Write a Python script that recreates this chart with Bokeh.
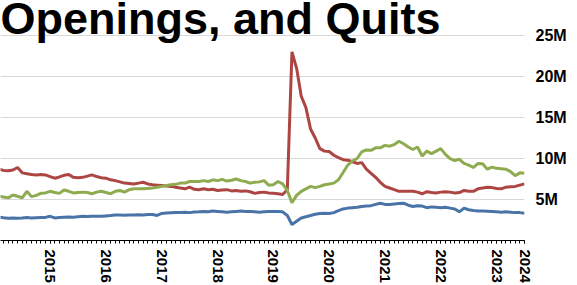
import pandas as pd
from bokeh.plotting import figure
from bokeh.models import Range1d, FixedTicker, CustomJSTickFormatter, Label
from bokeh.embed import file_html
from bokeh.resources import INLINE

# monthly observations (axis-label time base), values in millions
start_month = "2014-02"
n_months = 114

red_series = [
    8.7, 8.55, 8.5, 8.6, 8.9, 8.25, 8.15, 8.05, 8.0, 8.05, 8.0, 7.8,
    7.6, 7.75, 7.95, 8.05, 7.7, 7.65, 7.7, 7.85, 8.0, 7.8, 7.65, 7.6,
    7.4, 7.3, 7.15, 7.0, 6.95, 6.9, 7.0, 7.1, 6.9, 6.8, 6.75, 6.7,
    6.65, 6.6, 6.5, 6.4, 6.3, 6.5, 6.25, 6.2, 6.3, 6.2, 6.25, 6.1,
    6.15, 6.2, 6.05, 6.1, 6.0, 6.05, 5.95, 5.75, 5.85, 5.9, 5.8, 5.75,
    5.7, 5.6, 6.2, 23.0, 21.0, 17.6, 16.2, 13.6, 12.5, 11.2, 10.9, 10.85,
    10.4, 10.1, 9.85, 9.8, 9.6, 9.4, 9.5, 8.7, 8.2, 7.7, 7.1, 6.6,
    6.4, 6.2, 6.0, 6.0, 6.0, 6.0, 5.9, 5.7, 5.95, 5.85, 5.8, 5.9,
    5.95, 5.9, 5.8, 5.85, 6.1, 6.0, 6.0, 6.3, 6.4, 6.5, 6.45, 6.35,
    6.3, 6.5, 6.55, 6.6, 6.75, 6.9,
]

green_series = [
    5.4, 5.3, 5.2, 5.55, 5.4, 5.2, 6.0, 5.35, 5.5, 5.75, 5.8, 6.0,
    5.85, 5.75, 6.15, 6.0, 5.8, 5.85, 5.9, 5.85, 5.7, 5.9, 6.0, 5.85,
    5.7, 6.0, 6.1, 5.9, 6.2, 6.3, 6.3, 6.3, 6.35, 6.4, 6.5, 6.6,
    6.7, 6.8, 6.85, 7.0, 7.0, 7.2, 7.2, 7.2, 7.3, 7.2, 7.4, 7.3,
    7.45, 7.25, 7.35, 7.5, 7.3, 7.2, 7.0, 7.1, 7.15, 7.3, 6.75, 6.8,
    7.2, 6.9, 6.1, 4.6, 5.5, 6.0, 6.3, 6.6, 6.45, 6.6, 6.8, 6.9,
    7.0, 7.4, 8.3, 9.2, 9.7, 10.0, 10.8, 11.05, 11.0, 11.3, 11.3, 11.6,
    11.5, 11.7, 12.1, 11.8, 11.4, 11.1, 11.4, 10.3, 10.9, 10.6, 10.9, 11.2,
    10.5, 10.0, 9.75, 9.9, 9.4, 9.2, 8.9, 9.4, 9.35, 8.7, 8.95, 8.8,
    8.75, 8.7, 8.4, 7.9, 8.25, 8.2,
]

blue_series = [
    2.85, 2.78, 2.72, 2.75, 2.72, 2.75, 2.8, 2.75, 2.78, 2.8, 2.82, 2.95,
    2.75, 2.8, 2.85, 2.88, 2.85, 2.9, 2.95, 2.92, 2.95, 2.97, 2.95, 3.0,
    3.05, 3.12, 3.1, 3.08, 3.12, 3.1, 3.15, 3.12, 3.18, 3.17, 3.05, 3.3,
    3.35, 3.38, 3.4, 3.42, 3.45, 3.4, 3.48, 3.5, 3.55, 3.5, 3.6, 3.55,
    3.5, 3.45, 3.5, 3.55, 3.6, 3.55, 3.55, 3.5, 3.45, 3.5, 3.55, 3.55,
    3.55, 3.5, 3.05, 1.95, 2.35, 2.75, 2.9, 3.05, 3.2, 3.3, 3.33, 3.3,
    3.4, 3.65, 3.85, 3.95, 4.0, 4.05, 4.15, 4.2, 4.25, 4.4, 4.55, 4.4,
    4.4, 4.45, 4.5, 4.55, 4.3, 4.15, 4.25, 4.2, 4.0, 4.1, 4.05, 4.0,
    4.05, 3.95, 3.85, 3.5, 3.95, 3.75, 3.65, 3.6, 3.6, 3.58, 3.55, 3.5,
    3.45, 3.5, 3.45, 3.4, 3.4, 3.33,
]

year_ticks = [2015, 2016, 2017, 2018, 2019, 2020, 2021, 2022, 2023]
last_tick_label = "2024"
y_ticks = [5, 10, 15, 20, 25]
title_text = "Openings, and Quits"

dates = pd.date_range(start_month, periods=n_months, freq="MS")
xs = [d.year + (d.month - 1) / 12 for d in dates]

p = figure(width=577, height=285, output_backend="svg", toolbar_location=None,
           x_range=Range1d(2014.111, xs[-1]), y_range=Range1d(0, 29.27),
           y_axis_location="right", min_border_left=0, min_border_top=0,
           min_border_right=53, min_border_bottom=45)
p.outline_line_color = None
p.background_fill_color = "white"
p.border_fill_color = "white"

p.line(xs, red_series, line_color="#ad4643", line_width=3)
p.line(xs, green_series, line_color="#8fab4f", line_width=3)
p.line(xs, blue_series, line_color="#4a74a8", line_width=3)

# x axis
xa = p.xaxis[0]
xa.ticker = FixedTicker(ticks=year_ticks + [xs[-1]], minor_ticks=xs)
xa.formatter = CustomJSTickFormatter(
    args=dict(last=xs[-1], lab=last_tick_label),
    code="return Math.abs(tick - last) < 1e-6 ? lab : Math.round(tick).toString();")
xa.major_label_orientation = "vertical"
xa.major_label_text_font = "Liberation Sans"
xa.major_label_text_font_style = "bold"
xa.major_label_text_font_size = "15px"
xa.major_label_text_color = "black"
xa.major_label_standoff = 6
xa.axis_line_color = "black"
xa.axis_line_width = 1
xa.major_tick_in = 0
xa.major_tick_out = 3
xa.minor_tick_in = 0
xa.minor_tick_out = 3
xa.major_tick_line_color = "black"
xa.minor_tick_line_color = "black"

# y axis (right)
ya = p.yaxis[0]
ya.ticker = FixedTicker(ticks=y_ticks, minor_ticks=[])
ya.formatter = CustomJSTickFormatter(code="return tick + 'M';")
ya.axis_line_color = None
ya.major_tick_line_color = None
ya.minor_tick_line_color = None
ya.major_label_standoff = 5
ya.major_label_text_font = "Liberation Sans"
ya.major_label_text_font_style = "bold"
ya.major_label_text_font_size = "16px"
ya.major_label_text_color = "black"

p.xgrid.grid_line_color = None
p.ygrid.grid_line_color = "#d8d8d8"
p.ygrid.grid_line_width = 1

p.add_layout(Label(x=2014.111, y=27.1, text=title_text, text_font="Liberation Sans",
                   text_font_style="bold", text_font_size="45px", text_color="black",
                   text_baseline="alphabetic", text_align="left"))

open("out.html", "w").write(file_html(p, INLINE))
